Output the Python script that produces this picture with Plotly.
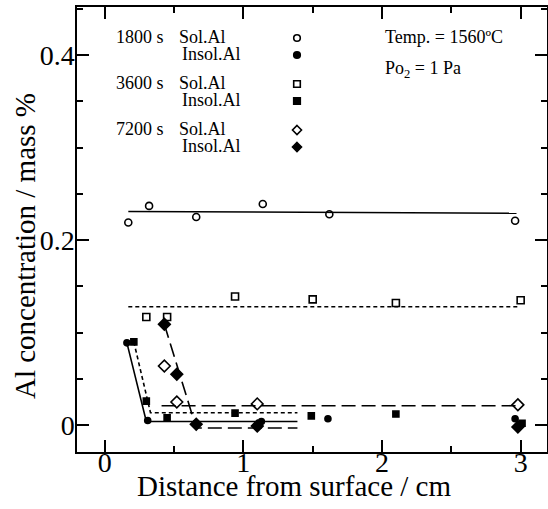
import plotly.graph_objects as go

# ---------------- data ----------------
x_1800_sol = [0.17, 0.32, 0.66, 1.14, 1.62, 2.96]
y_1800_sol = [0.219, 0.237, 0.225, 0.239, 0.228, 0.221]
x_1800_insol = [0.16, 0.31, 1.13, 1.61, 2.96]
y_1800_insol = [0.089, 0.005, 0.004, 0.007, 0.007]

x_3600_sol = [0.30, 0.45, 0.94, 1.50, 2.10, 3.00]
y_3600_sol = [0.117, 0.117, 0.139, 0.136, 0.132, 0.135]
x_3600_insol = [0.21, 0.30, 0.45, 0.94, 1.49, 2.10, 3.01]
y_3600_insol = [0.090, 0.026, 0.008, 0.013, 0.010, 0.012, 0.002]

x_7200_sol = [0.43, 0.52, 1.10, 2.98]
y_7200_sol = [0.064, 0.025, 0.023, 0.022]
x_7200_insol = [0.43, 0.52, 0.66, 1.10, 2.98]
y_7200_insol = [0.109, 0.055, 0.001, -0.001, -0.002]

# trend lines drawn by the authors
fit_1800_sol_x = [0.17, 2.97]
fit_1800_sol_y = [0.231, 0.229]
fit_1800_insol_x = [0.16, 0.30, 1.39]
fit_1800_insol_y = [0.089, 0.004, 0.004]
fit_3600_sol_x = [0.17, 2.99]
fit_3600_sol_y = [0.128, 0.128]
fit_3600_insol_x = [0.21, 0.33, 1.39]
fit_3600_insol_y = [0.090, 0.0135, 0.0135]
fit_7200_sol_x = [0.41, 2.97]
fit_7200_sol_y = [0.021, 0.021]
fit_7200_insol_x = [0.43, 0.66, 1.39]
fit_7200_insol_y = [0.109, -0.003, -0.003]

x_tick_vals = [0, 1, 2, 3]
x_tick_text = ["0", "1", "2", "3"]
y_tick_vals = [0, 0.2, 0.4]
y_tick_text = ["0", "0.2", "0.4"]

legend_times = ["1800 s", "3600 s", "7200 s"]
legend_species = ["Sol.Al", "Insol.Al"]
legend_symbols = [("circle", False), ("circle", True),
                  ("square", False), ("square", True),
                  ("diamond", False), ("diamond", True)]

FONT = "Liberation Serif"
BLACK = "black"

fig = go.Figure()

def add_line(x, y, dash):
    fig.add_trace(go.Scatter(x=x, y=y, mode="lines", showlegend=False,
                             line=dict(color=BLACK, width=1.6, dash=dash),
                             hoverinfo="skip"))

def add_pts(x, y, symbol, filled, size):
    sym = symbol if filled else symbol + "-open"
    fig.add_trace(go.Scatter(x=x, y=y, mode="markers", showlegend=False,
                             marker=dict(symbol=sym, size=size, color=BLACK,
                                         line=dict(color=BLACK, width=1.6))))

SHORT = "4px,3px"
LONG = "14px,6px"
add_line(fit_1800_sol_x, fit_1800_sol_y, "solid")
add_line(fit_1800_insol_x, fit_1800_insol_y, "solid")
add_line(fit_3600_sol_x, fit_3600_sol_y, SHORT)
add_line(fit_3600_insol_x, fit_3600_insol_y, SHORT)
add_line(fit_7200_sol_x, fit_7200_sol_y, LONG)
add_line(fit_7200_insol_x, fit_7200_insol_y, LONG)

add_pts(x_1800_sol, y_1800_sol, "circle", False, 7)
add_pts(x_1800_insol, y_1800_insol, "circle", True, 6)
add_pts(x_3600_sol, y_3600_sol, "square", False, 7)
add_pts(x_3600_insol, y_3600_insol, "square", True, 6)
add_pts(x_7200_sol, y_7200_sol, "diamond", False, 9)
add_pts(x_7200_insol, y_7200_insol, "diamond", True, 9)

# ---------------- layout geometry (pixels) ----------------
W, H = 548, 509
L, R, T, B = 77, 1, 7, 57
PW, PH = W - L - R, H - T - B

def px(xp):
    return (xp - L) / PW

def py(yp):
    return (H - B - yp) / PH

annotations = []
shapes = []

row_y = [37, 54, 83, 100, 129, 146]
for i, t in enumerate(legend_times):
    annotations.append(dict(x=px(114), y=py(row_y[2 * i]), xref="paper", yref="paper",
                            text=t, showarrow=False, xanchor="left", yanchor="middle",
                            font=dict(family=FONT, size=18, color=BLACK)))
    for j, sp in enumerate(legend_species):
        annotations.append(dict(x=px(177 + 3 * j), y=py(row_y[2 * i + j]),
                                xref="paper", yref="paper", text=sp, showarrow=False,
                                xanchor="left", yanchor="middle",
                                font=dict(family=FONT, size=18, color=BLACK)))

for k, (sym, filled) in enumerate(legend_symbols):
    cx, cy = px(297), py(row_y[k] + 1)
    fill = BLACK if filled else "white"
    common = dict(xref="paper", yref="paper", xsizemode="pixel", ysizemode="pixel",
                  xanchor=cx, yanchor=cy, fillcolor=fill,
                  line=dict(color=BLACK, width=1.6))
    if sym == "circle":
        shapes.append(dict(type="circle", x0=-3.3, x1=3.3, y0=-3.3, y1=3.3, **common))
    elif sym == "square":
        shapes.append(dict(type="rect", x0=-3.3, x1=3.3, y0=-3.3, y1=3.3, **common))
    else:
        shapes.append(dict(type="path", path="M 0,4.5 L 4.5,0 L 0,-4.5 L -4.5,0 Z", **common))

annotations.append(dict(x=px(383), y=py(37), xref="paper", yref="paper",
                        text="Temp. = 1560ºC", showarrow=False, xanchor="left",
                        yanchor="middle", font=dict(family=FONT, size=18, color=BLACK)))
annotations.append(dict(x=px(383), y=py(70), xref="paper", yref="paper",
                        text="Po<sub>2</sub> = 1 Pa", showarrow=False, xanchor="left",
                        yanchor="middle", font=dict(family=FONT, size=18, color=BLACK)))

# axis titles
annotations.append(dict(x=px(294), y=py(486), xref="paper", yref="paper",
                        text="Distance from surface / cm", showarrow=False,
                        xanchor="center", yanchor="middle",
                        font=dict(family=FONT, size=29, color=BLACK)))
annotations.append(dict(x=px(25), y=py(246), xref="paper", yref="paper",
                        text="Al concentration / mass %", showarrow=False, textangle=-90,
                        xanchor="center", yanchor="middle",
                        font=dict(family=FONT, size=29, color=BLACK)))

axis_common = dict(showline=True, linecolor=BLACK, linewidth=1.5, mirror="allticks",
                   ticks="inside", ticklen=12, tickwidth=1.5, tickcolor=BLACK,
                   showgrid=False, zeroline=False, automargin=False,
                   tickfont=dict(family=FONT, size=28, color=BLACK))

fig.update_layout(
    template="none",
    font=dict(family=FONT, color=BLACK),
    width=W, height=H,
    margin=dict(l=L, r=R, t=T, b=B, autoexpand=False),
    paper_bgcolor="white", plot_bgcolor="white",
    showlegend=False,
    xaxis=dict(range=[-0.2, 3.19], tickvals=x_tick_vals, ticktext=x_tick_text,
               ticklabelstandoff=-15,
               minor=dict(tick0=0, dtick=0.5, ticks="inside", ticklen=6, tickwidth=1.5,
                          tickcolor=BLACK, showgrid=False),
               **axis_common),
    yaxis=dict(range=[-0.029, 0.452], tickvals=y_tick_vals, ticktext=y_tick_text,
               ticklabelstandoff=-5,
               minor=dict(tick0=0, dtick=0.05, ticks="inside", ticklen=6, tickwidth=1.5,
                          tickcolor=BLACK, showgrid=False),
               **axis_common),
    annotations=annotations,
    shapes=shapes,
)

fig.write_html("out.html", config={"displayModeBar": False},
               post_script="document.body.style.margin='0';document.body.style.overflow='hidden';")
